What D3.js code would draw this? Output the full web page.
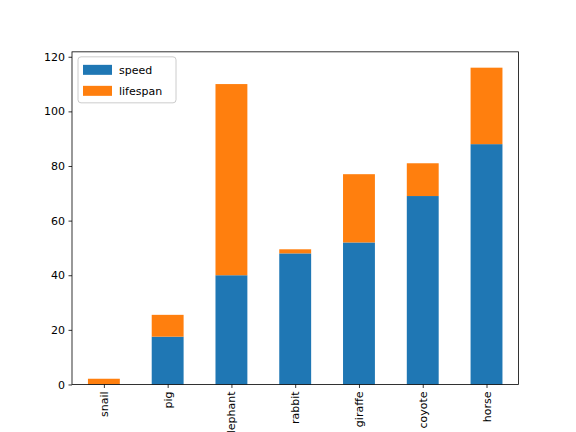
<!DOCTYPE html>
<html><head><meta charset="utf-8">
<script src="https://cdn.jsdelivr.net/npm/d3@7"></script>
<style>body{margin:0;background:#fff}svg{font-family:"DejaVu Sans",sans-serif}</style>
</head><body><svg id="chart" width="576" height="432"></svg>
<script>
const animals = ['snail', 'pig', 'elephant', 'rabbit', 'giraffe', 'coyote', 'horse'];
const speed = [0.1, 17.5, 40, 48, 52, 69, 88];
const lifespan = [2, 8, 70, 1.5, 25, 12, 28];
const yTicks = [0, 20, 40, 60, 80, 100, 120];

const margin = { left: 72, right: 518.4, top: 51.84, bottom: 384.48 };
const svg = d3.select('#chart');

const x = d3.scaleLinear().domain([-0.5, animals.length - 0.5]).range([margin.left, margin.right]);
const yMax = d3.max(speed.map((s, i) => s + lifespan[i])) * 1.05;
const y = d3.scaleLinear().domain([0, yMax]).range([margin.bottom, margin.top]);

const barW = x(0.25) - x(0);

// speed bars
svg.append('g').selectAll('rect').data(speed).enter().append('rect')
  .attr('x', (d, i) => x(i) - barW)
  .attr('width', barW * 2)
  .attr('y', d => y(d))
  .attr('height', d => y(0) - y(d))
  .attr('fill', '#1f77b4');

// lifespan bars on top
svg.append('g').selectAll('rect').data(lifespan).enter().append('rect')
  .attr('x', (d, i) => x(i) - barW)
  .attr('width', barW * 2)
  .attr('y', (d, i) => y(speed[i] + d))
  .attr('height', (d, i) => y(speed[i]) - y(speed[i] + d))
  .attr('fill', '#ff7f0e');

// axes
const yAxis = svg.append('g').attr('transform', `translate(${margin.left},0)`)
  .call(d3.axisLeft(y).tickValues(yTicks).tickSize(3.5).tickPadding(3.5));
const xAxis = svg.append('g').attr('transform', `translate(0,${margin.bottom})`)
  .call(d3.axisBottom(x).tickValues(d3.range(animals.length)).tickFormat(i => animals[i]).tickSize(3.5));
xAxis.selectAll('text')
  .attr('transform', 'rotate(-90)')
  .attr('text-anchor', 'end')
  .attr('x', -7).attr('y', 0).attr('dy', '0.32em');
[yAxis, xAxis].forEach(a => {
  a.select('.domain').remove();
  a.selectAll('text').attr('font-size', 11).attr('fill', '#000').attr('font-family', '"DejaVu Sans"');
  a.selectAll('line').attr('stroke', '#000').attr('stroke-width', 0.8);
});

// frame
svg.append('rect').attr('x', margin.left).attr('y', margin.top)
  .attr('width', margin.right - margin.left).attr('height', margin.bottom - margin.top)
  .attr('fill', 'none').attr('stroke', '#000').attr('stroke-width', 0.8);

// legend
const leg = svg.append('g').attr('transform', `translate(${margin.left + 6},${margin.top + 5})`);
leg.append('rect').attr('width', 98).attr('height', 46).attr('rx', 3)
  .attr('fill', '#fff').attr('fill-opacity', 0.8).attr('stroke', '#ccc');
[['speed', '#1f77b4'], ['lifespan', '#ff7f0e']].forEach(([name, c], i) => {
  leg.append('rect').attr('x', 5).attr('y', 8 + i * 21).attr('width', 29).attr('height', 10).attr('fill', c);
  leg.append('text').attr('x', 41).attr('y', 17.5 + i * 21).attr('font-size', 11).text(name);
});
</script></body></html>
